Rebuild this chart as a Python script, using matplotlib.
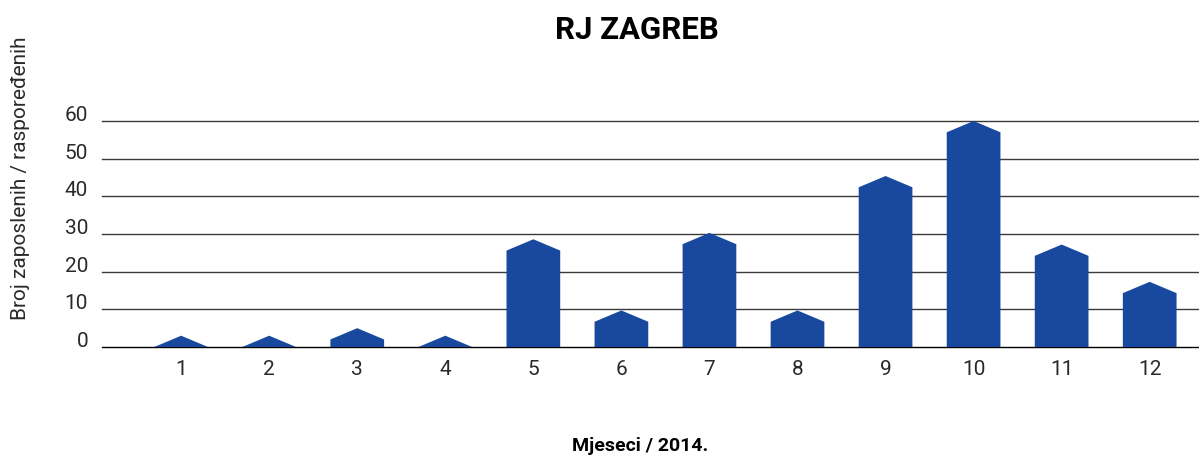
import matplotlib
matplotlib.use("Agg")
import matplotlib.pyplot as plt

# data (peak of each bar)
months = [1, 2, 3, 4, 5, 6, 7, 8, 9, 10, 11, 12]
values = [3, 3, 5, 3, 28.6, 9.7, 30.3, 9.7, 45.4, 60, 27.2, 17.3]
y_ticks = [0, 10, 20, 30, 40, 50, 60]

title = "RJ ZAGREB"
x_label = "Mjeseci / 2014."
y_label = "Broj zaposlenih / raspoređenih"

BLUE = "#19499E"
CAP = 3.0        # height of the pointed top, in data units
WIDTH = 0.61
TXT = "#2a2a2a"

plt.rcParams["font.family"] = ["Roboto", "DejaVu Sans"]

fig = plt.figure(figsize=(11.99, 4.57), dpi=100)
ax = fig.add_axes([0.085, 0.2407, 0.915, 0.4945])

# each bar is a pentagon: rectangle body with a pointed top
for m, v in zip(months, values):
    body = max(v - CAP, 0)
    xs = [m - WIDTH / 2, m - WIDTH / 2, m, m + WIDTH / 2, m + WIDTH / 2]
    ys = [0, body, v, body, 0]
    ax.fill(xs, ys, color=BLUE, linewidth=0, zorder=3, clip_on=False)

ax.set_xlim(0.1, 12.56)
ax.set_ylim(0, 60)

# horizontal rules
for t in y_ticks:
    ax.axhline(t, color="black" if t == 0 else "#3a3a3a",
               lw=1.0, zorder=2, clip_on=False)

for s in ax.spines.values():
    s.set_visible(False)

ax.set_xticks(months)
ax.set_xticklabels([str(m) for m in months], fontsize=15,
                   fontweight="normal", color=TXT)
ax.set_yticks(y_ticks)
ax.set_yticklabels([str(t) for t in y_ticks], fontsize=15,
                   fontweight="normal", color=TXT)
ax.tick_params(axis="x", length=0, pad=9)
ax.tick_params(axis="y", length=0, pad=10)
for lbl in ax.get_yticklabels():
    lbl.set_verticalalignment("baseline")

fig.text(0.531, 0.935, title, ha="center", va="center",
         fontsize=22.5, fontweight="bold")
fig.text(0.534, 0.025, x_label, ha="center", va="center",
         fontsize=14, fontweight="bold")
fig.text(0.017, 0.61, y_label, ha="center", va="center", rotation=90,
         fontsize=15, fontweight="normal", color=TXT)

fig.savefig("out.png", dpi=100)
